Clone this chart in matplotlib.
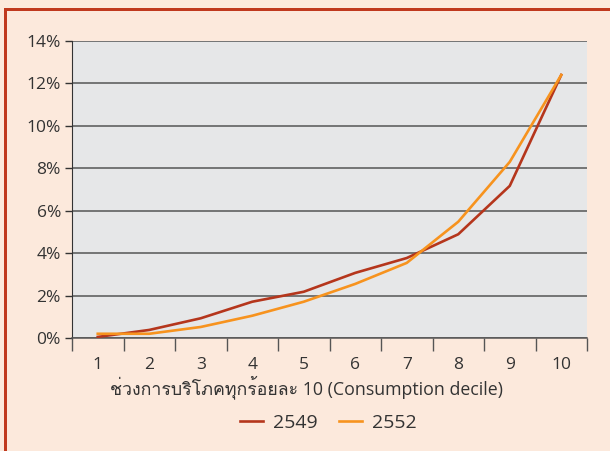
import numpy as np
import matplotlib
matplotlib.use("Agg")
import matplotlib.pyplot as plt
from matplotlib import font_manager
from matplotlib.ft2font import FT2Font
from matplotlib.patches import Rectangle

# data (percent share per consumption decile)
deciles = ["1", "2", "3", "4", "5", "6", "7", "8", "9", "10"]
share_2549 = [0.05, 0.38, 0.93, 1.71, 2.18, 3.07, 3.77, 4.89, 7.17, 12.4]
share_2552 = [0.20, 0.20, 0.52, 1.05, 1.71, 2.55, 3.54, 5.48, 8.30, 12.4]
series_names = ["2549", "2552"]
yticks = [0, 2, 4, 6, 8, 10, 12, 14]
xlabel = "ช่วงการบริโภคทุกร้อยละ 10 (Consumption decile)"

# find an installed font that has Thai glyphs
thai_font = None
for f in font_manager.fontManager.ttflist:
    try:
        if 0x0E0A in FT2Font(f.fname).get_charmap():
            thai_font = f.name
            break
    except Exception:
        pass
families = ["Open Sans", "DejaVu Sans"]
if thai_font:
    families.insert(1, thai_font)
plt.rcParams["font.family"] = families

bg = "#FCE9DC"
txt = "#333333"
red = "#B5361C"
orange = "#F7931E"
border = "#C0391E"

W, H = 610, 451
fig = plt.figure(figsize=(W / 100, H / 100), dpi=100, facecolor=bg)
# frame border (top and left edges only), drawn as thin filled strips
fig.add_artist(Rectangle((4 / W, (H - 10.5) / H), (W - 4) / W, 2.5 / H,
                         transform=fig.transFigure, facecolor=border,
                         edgecolor="none"))
fig.add_artist(Rectangle((4 / W, 0), 2.5 / W, (H - 8) / H,
                         transform=fig.transFigure, facecolor=border,
                         edgecolor="none"))

ax = fig.add_axes([72 / W, 1 - 338 / H, 515 / W, 297 / H])
ax.set_facecolor("#E6E7E8")

x = np.arange(len(deciles))
ax.plot(x, share_2549, color=red, lw=1.9, label=series_names[0], zorder=3)
ax.plot(x, share_2552, color=orange, lw=1.9, label=series_names[1], zorder=3)

ax.set_xlim(-0.5, len(deciles) - 0.5)
ax.set_ylim(0, 14)
ax.set_yticks(yticks)
ax.set_yticklabels([f"{v}%" for v in yticks], fontsize=12.5, color=txt)
ax.yaxis.grid(True, color="#555555", lw=1.1)
ax.set_axisbelow(True)

ax.set_xticks(np.arange(len(deciles) + 1) - 0.5)
ax.set_xticklabels([])
ax.set_xticks(x, minor=True)
ax.set_xticklabels(deciles, minor=True, fontsize=12.5, color=txt)
ax.tick_params(axis="x", which="major", length=9, color="#555555", width=1)
ax.tick_params(axis="x", which="minor", length=0, pad=14)
ax.tick_params(axis="y", length=5, color="#333333", width=1, pad=3)

for s in ["top", "right"]:
    ax.spines[s].set_visible(False)
ax.spines["left"].set_color("#333333")
ax.spines["bottom"].set_color("#555555")
ax.spines["bottom"].set_linewidth(1.1)

ax.set_xlabel(xlabel, fontsize=12.8, color=txt)
ax.xaxis.set_label_coords(0.456, -0.124)

ax.legend(loc="center", bbox_to_anchor=(0.497, -0.287), ncol=2, frameon=False,
          fontsize=14, labelcolor=txt, handlelength=1.2, columnspacing=1.1,
          handletextpad=0.5)

fig.savefig("out.png", dpi=100, facecolor=bg)
